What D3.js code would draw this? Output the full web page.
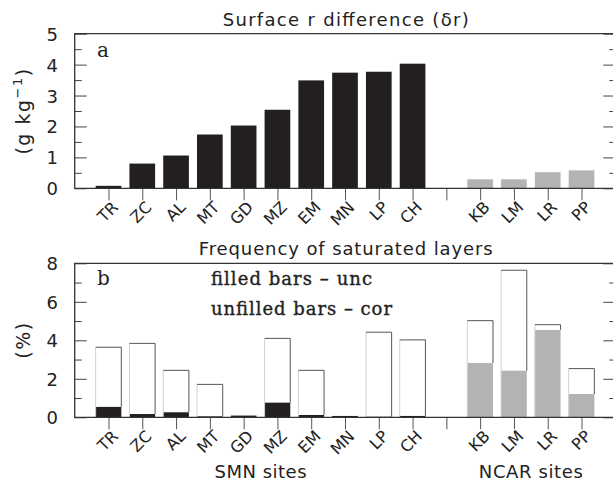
<!DOCTYPE html>
<html><head><meta charset="utf-8">
<script src="https://cdn.jsdelivr.net/npm/d3@7"></script>
<style>body{margin:0;background:#fff}svg{display:block}</style>
</head><body>
<svg id="c" width="613" height="482"></svg>
<script>
const smnSites = ["TR","ZC","AL","MT","GD","MZ","EM","MN","LP","CH"];
const ncarSites = ["KB","LM","LR","PP"];
const drSMN = [0.08,0.80,1.06,1.74,2.03,2.54,3.49,3.74,3.77,4.03];
const drNCAR = [0.29,0.29,0.52,0.58];
const uncSMN = [0.54,0.17,0.26,0.05,0.09,0.76,0.12,0.07,0.03,0.07];
const corSMN = [3.64,3.84,2.44,1.71,0,4.10,2.44,0,4.42,4.02];
const uncNCAR = [2.82,2.42,4.54,1.21];
const corNCAR = [5.02,7.64,4.81,2.53];
const topTicks = [0,1,2,3,4,5];
const topMinor = [0.5,1.5,2.5,3.5,4.5];
const botTicks = [0,2,4,6,8];
const botMinor = [1,3,5,7];

const BLACK = "#231f20", GRAY = "#b2b3b5", FRAME = "#333";
const svg = d3.select("#c");
const sites = smnSites.concat([""], ncarSites);
const idx = s => sites.indexOf(s);
const x = d3.scaleLinear().domain([-1, 15]).range([74.7, 615.3]);
const step = x(1) - x(0), bw = step * 0.76;

function panel(y, ticks, minor, opts) {
  const g = svg.append("g");
  const y0 = y(0), yT = y.range()[1], X0 = x(-1), X1 = x(15);
  const tk = (sel) => sel.call(a => a.select(".domain").remove())
    .selectAll("line").attr("stroke", "#444");
  g.append("g").attr("transform", `translate(${X0},0)`)
    .call(d3.axisRight(y).tickValues(ticks).tickSize(12).tickFormat("")).call(tk);
  g.append("g").attr("transform", `translate(${X0},0)`)
    .call(d3.axisRight(y).tickValues(minor).tickSize(7).tickFormat("")).call(tk);
  g.append("g").attr("transform", `translate(${X1},0)`)
    .call(d3.axisLeft(y).tickValues(ticks).tickSize(12).tickFormat("")).call(tk);
  g.append("g").attr("transform", `translate(${X1},0)`)
    .call(d3.axisLeft(y).tickValues(minor).tickSize(6).tickFormat("")).call(tk);
  g.append("g").attr("transform", `translate(${X0},0)`)
    .call(d3.axisLeft(y).tickValues(ticks).tickSize(0).tickPadding(X0 - 58).tickFormat(d3.format("d")))
    .call(a => a.select(".domain").remove())
    .selectAll("text").attr("font-family", "DejaVu Sans").attr("font-size", 18)
    .attr("fill", "#222").attr("dy", "0.36em");
  const xa = g.append("g").attr("transform", `translate(0,${y0})`)
    .call(d3.axisBottom(x).tickValues(d3.range(15)).tickSize(12).tickPadding(4)
      .tickFormat(i => sites[i]))
    .call(a => a.select(".domain").remove());
  xa.selectAll("line").attr("stroke", "#555");
  xa.selectAll("text")
    .attr("font-family", "DejaVu Sans").attr("font-size", 16).attr("fill", "#222")
    .attr("text-anchor", "end").attr("dy", null).attr("y", null).attr("x", null)
    .attr("transform", "translate(10,20) rotate(-45)");
  opts.draw(g, y);
  g.append("path")
    .attr("d", `M${X0},${y0}V${yT}H${X1}V${y0}Z`)
    .attr("fill", "none").attr("stroke", FRAME).attr("stroke-width", 1.3);
  g.append("text").attr("x", 345.7).attr("y", yT - 8)
    .attr("text-anchor", "middle").attr("font-family", "DejaVu Sans")
    .attr("font-size", 18).attr("fill", "#222")
    .attr("textLength", opts.titleW).attr("lengthAdjust", "spacing")
    .text(opts.title);
  g.append("text").attr("x", 97).attr("y", opts.letterY)
    .attr("font-family", "DejaVu Serif").attr("font-size", 20).attr("fill", "#222")
    .text(opts.letter);
  return g;
}

const ya = d3.scaleLinear().domain([0, 5]).range([188.3, 33.7]);
panel(ya, topTicks, topMinor, {
  title: "Surface r difference (\u03B4r)", titleW: 246, letter: "a", letterY: 57,
  draw: (g, y) => {
    g.selectAll("rect.s").data(smnSites).join("rect")
      .attr("x", (s) => x(idx(s)) - bw / 2).attr("width", bw)
      .attr("y", (s, i) => y(drSMN[i])).attr("height", (s, i) => y(0) - y(drSMN[i]))
      .attr("fill", BLACK);
    g.selectAll("rect.n").data(ncarSites).join("rect")
      .attr("x", (s) => x(idx(s)) - bw / 2).attr("width", bw)
      .attr("y", (s, i) => y(drNCAR[i])).attr("height", (s, i) => y(0) - y(drNCAR[i]))
      .attr("fill", GRAY);
  }
});
svg.append("text")
  .attr("transform", "translate(30,111) rotate(-90)")
  .attr("text-anchor", "middle").attr("font-family", "DejaVu Sans")
  .attr("font-size", 19).attr("letter-spacing", 1.5).attr("fill", "#222")
  .call(t => { t.append("tspan").text("(g  kg");
    t.append("tspan").attr("dy", -8).attr("font-size", 13).text("\u22121");
    t.append("tspan").attr("dy", 8).text(")"); });

const yb = d3.scaleLinear().domain([0, 8]).range([417.3, 263.3]);
panel(yb, botTicks, botMinor, {
  title: "Frequency of saturated layers", titleW: 294, letter: "b", letterY: 285,
  draw: (g, y) => {
    const cor = corSMN.concat(corNCAR), unc = uncSMN.concat(uncNCAR);
    const names = smnSites.concat(ncarSites);
    names.forEach((s, i) => {
      const cx = x(idx(s)), l = cx - bw / 2, r = cx + bw / 2;
      const isN = i >= smnSites.length;
      g.append("rect").attr("x", l).attr("width", bw)
        .attr("y", y(unc[i])).attr("height", y(0) - y(unc[i]))
        .attr("fill", isN ? GRAY : BLACK);
      if (cor[i] > 0) {
        g.append("line").attr("x1", l).attr("x2", l).attr("y1", y(0)).attr("y2", y(cor[i]))
          .attr("stroke", "#d0d0d0").attr("stroke-width", 1);
        g.append("path").attr("d", `M${l},${y(cor[i])}H${r}V${y(unc[i])}`)
          .attr("fill", "none").attr("stroke", "#555").attr("stroke-width", 1);
      }
    });
    g.append("text").attr("x", 211).attr("y", 285)
      .attr("font-family", "DejaVu Serif").attr("font-size", 18)
      .attr("fill", "#222").attr("stroke", "#222").attr("stroke-width", 0.35)
      .attr("textLength", 161).attr("lengthAdjust", "spacing")
      .text("filled bars \u2013 unc");
    g.append("text").attr("x", 211).attr("y", 315)
      .attr("font-family", "DejaVu Serif").attr("font-size", 18)
      .attr("fill", "#222").attr("stroke", "#222").attr("stroke-width", 0.35)
      .attr("textLength", 181).attr("lengthAdjust", "spacing")
      .text("unfilled bars \u2013 cor");
  }
});
svg.append("text")
  .attr("transform", "translate(30,340) rotate(-90)")
  .attr("text-anchor", "middle").attr("font-family", "DejaVu Sans")
  .attr("font-size", 19).attr("letter-spacing", 1.5).attr("fill", "#222").text("(%)");

svg.append("text").attr("x", (x(0) + x(9)) / 2).attr("y", 478)
  .attr("text-anchor", "middle").attr("font-family", "DejaVu Sans")
  .attr("font-size", 18).attr("fill", "#222").attr("textLength", 92).attr("lengthAdjust", "spacing")
  .text("SMN  sites");
svg.append("text").attr("x", (x(11) + x(14)) / 2).attr("y", 478)
  .attr("text-anchor", "middle").attr("font-family", "DejaVu Sans")
  .attr("font-size", 18).attr("fill", "#222").attr("textLength", 104).attr("lengthAdjust", "spacing")
  .text("NCAR  sites");
</script>
</body></html>
